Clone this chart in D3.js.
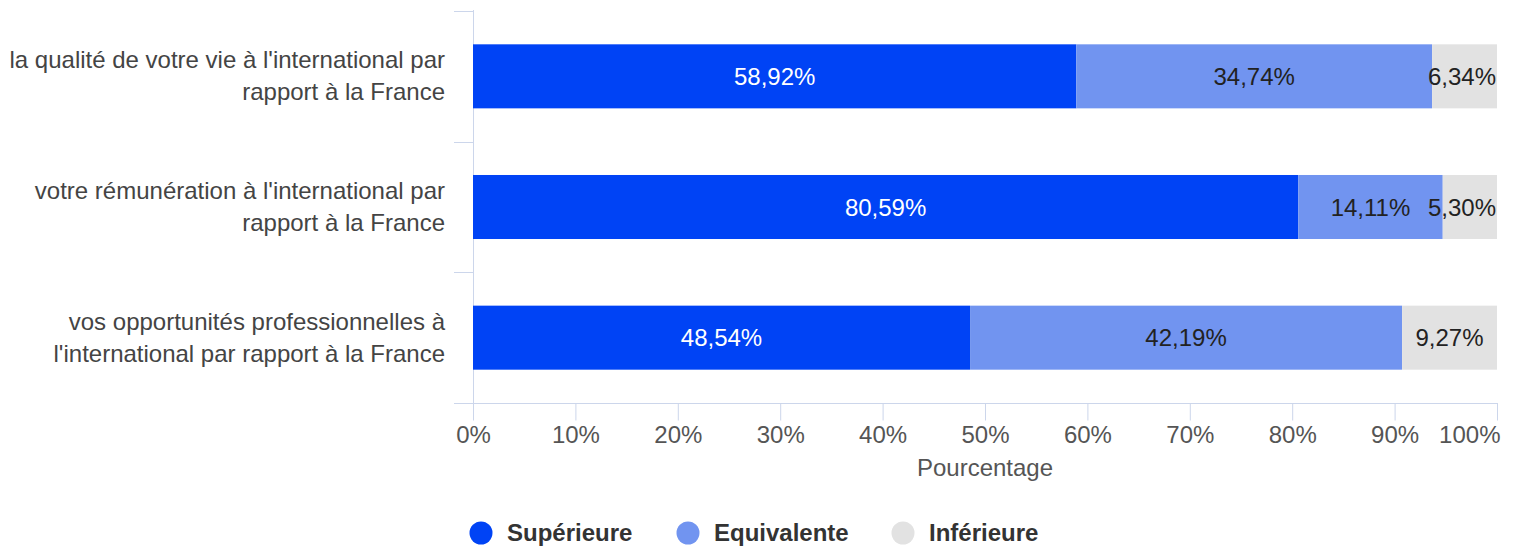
<!DOCTYPE html>
<html><head><meta charset="utf-8">
<script src="https://cdn.jsdelivr.net/npm/d3@7"></script>
<style>body{margin:0;background:#fff;}svg{display:block;font-family:"Liberation Sans",Arial,sans-serif;}</style>
</head><body>
<svg id="c" width="1518" height="551"></svg>
<script>
const categories = [
  ["la qualité de votre vie à l'international par", "rapport à la France"],
  ["votre rémunération à l'international par", "rapport à la France"],
  ["vos opportunités professionnelles à", "l'international par rapport à la France"]
];
const seriesNames = ["Supérieure", "Equivalente", "Inférieure"];
const superieure = [58.92, 80.59, 48.54];
const equivalente = [34.74, 14.11, 42.19];
const inferieure = [6.34, 5.30, 9.27];
const xTicks = [0,10,20,30,40,50,60,70,80,90,100];
const colors = ["#0043f5", "#7194f0", "#e2e2e2"];
const labelColors = ["#ffffff", "#222222", "#222222"];

const FS = 24;
const svg = d3.select("#c");
const x = d3.scaleLinear().domain([0,100]).range([473,1497]);
const y = d3.scaleBand().domain(d3.range(categories.length)).range([11,403]).paddingInner(0.51).paddingOuter(0.255);

const seriesVals = [superieure, equivalente, inferieure];

const axisCol = "#ccd6eb";
svg.append("line").attr("x1",473.5).attr("x2",473.5).attr("y1",10).attr("y2",403).attr("stroke",axisCol);
const bandStep = (403-11)/3;
[0,1,2,3].forEach(i=>{
  const yy = Math.round(11 + i*bandStep)+0.5;
  svg.append("line").attr("x1",454).attr("x2",473).attr("y1",yy).attr("y2",yy).attr("stroke",axisCol);
});
svg.append("line").attr("x1",454).attr("x2",1498).attr("y1",403.5).attr("y2",403.5).attr("stroke",axisCol);
const xa = svg.append("g").attr("transform","translate(0,403.5)").call(d3.axisBottom(x).tickValues(xTicks).tickSize(17).tickFormat(d=>d+"%"));
xa.select(".domain").remove();
xa.selectAll(".tick line").attr("stroke",axisCol);
xa.selectAll(".tick text").attr("font-size",FS).attr("fill","#555").attr("dy",0).attr("y",39.5);
xa.selectAll(".tick").filter(d=>d===100).select("text").attr("text-anchor","end").attr("x",3);
svg.append("text").attr("x",985).attr("y",476).attr("text-anchor","middle").attr("font-size",FS).attr("fill","#555").text("Pourcentage");

categories.forEach((lines,i)=>{
  const cy = y(i)+y.bandwidth()/2;
  const t = svg.append("text").attr("text-anchor","end").attr("font-size",FS).attr("fill","#444");
  lines.forEach((ln,j)=>{
    t.append("tspan").attr("x",445).attr("y",cy + (j-0.5)*32 + 8).text(ln);
  });
});

categories.forEach((c,i)=>{
  let acc = 0;
  seriesVals.forEach((vals,s)=>{
    const v = vals[i];
    const x0 = x(acc), x1 = x(acc+v);
    svg.append("rect").attr("x",x0).attr("y",y(i)).attr("width",x1-x0).attr("height",y.bandwidth()).attr("fill",colors[s]);
    acc += v;
  });
});
categories.forEach((c,i)=>{
  let acc = 0;
  seriesVals.forEach((vals,s)=>{
    const v = vals[i];
    const mid = x(acc + v/2);
    const t = svg.append("text").attr("x",mid).attr("y",y(i)+y.bandwidth()/2+8.5).attr("text-anchor","middle")
      .attr("font-size",FS).attr("fill",labelColors[s]).text(v.toFixed(2).replace(".",",")+"%");
    const w = t.node().getComputedTextLength();
    const right = x(100) - 1;
    if (mid + w/2 > right) t.attr("x", right - w/2);
    acc += v;
  });
});

const legX = [481, 688, 903];
seriesNames.forEach((n,i)=>{
  svg.append("circle").attr("cx",legX[i]).attr("cy",533).attr("r",11.5).attr("fill",colors[i]);
  svg.append("text").attr("x",legX[i]+26).attr("y",541).attr("font-size",FS).attr("font-weight","bold").attr("fill","#333").text(n);
});
</script>
</body></html>
